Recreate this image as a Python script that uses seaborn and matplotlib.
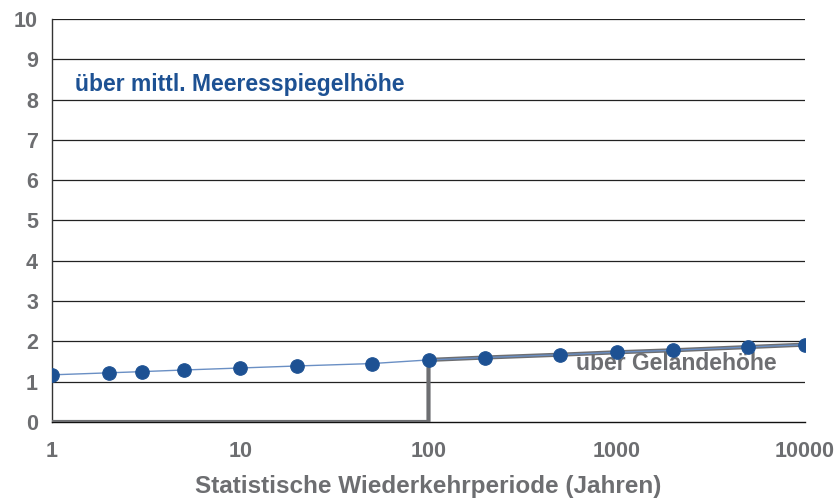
import matplotlib.pyplot as plt
import numpy as np
import seaborn as sns
import pandas as pd

sns.set_theme(style="white")
plt.rcParams["font.family"] = ["Liberation Sans", "DejaVu Sans"]

# Wiederkehrperiode (Jahre) und Höhe (m)
perioden = [1, 2, 3, 5, 10, 20, 50, 100, 200, 500, 1000, 2000, 5000, 10000]
hoehe_meer = [1.17, 1.22, 1.25, 1.29, 1.34, 1.39, 1.45, 1.54, 1.60, 1.67, 1.73, 1.78, 1.86, 1.92]

# über Geländehöhe: 0 bis 100 Jahre, dann wie Meeresspiegel
gelaende_x = [1, 100, 100, 200, 500, 1000, 2000, 5000, 10000]
gelaende_y = [0, 0, 1.54, 1.60, 1.67, 1.73, 1.78, 1.86, 1.92]

df = pd.DataFrame({"T": perioden, "H": hoehe_meer})
dg = pd.DataFrame({"T": gelaende_x, "H": gelaende_y})

grau = "#6d6e71"
blau = "#1d5193"

fig = plt.figure(figsize=(8.4, 5.03), dpi=100)
ax = fig.add_axes([52 / 840, 1 - 422 / 503, (805 - 52) / 840, (422 - 19) / 503])

for y in range(1, 11):
    ax.axhline(y, color="#222222", lw=0.9, zorder=1)

# Beschriftungen
ax.text((576 - 52) / 753, (422 - 363) / 403, "uber Geländehöhe", color=grau,
        fontsize=16.5, fontweight="bold", ha="left", va="center",
        transform=ax.transAxes, zorder=2)
ax.text((75 - 52) / 753, (422 - 85) / 403, "über mittl. Meeresspiegelhöhe", color=blau,
        fontsize=16.5, fontweight="bold", ha="left", va="center",
        transform=ax.transAxes, zorder=6)

ax.plot(dg["T"], dg["H"], color=grau, lw=3, zorder=3, solid_joinstyle="miter")
sns.lineplot(data=df, x="T", y="H", color="#6a8fc4", lw=1, ax=ax, zorder=4)
sns.scatterplot(data=df, x="T", y="H", color=blau, s=95, edgecolor=blau, ax=ax, zorder=5)

ax.set_xscale("log")
ax.set_xlim(1, 10000)
ax.set_ylim(0, 10)
ax.set_xticks([1, 10, 100, 1000, 10000])
ax.set_xticklabels(["1", "10", "100", "1000", "10000"])
ax.xaxis.set_minor_locator(plt.NullLocator())
ax.set_yticks(range(0, 11))

ax.spines["top"].set_visible(False)
ax.spines["right"].set_visible(False)
ax.spines["left"].set_color("#333333")
ax.spines["bottom"].set_color("#111111")
ax.spines["left"].set_linewidth(1.0)
ax.spines["bottom"].set_linewidth(1.0)

ax.tick_params(axis="both", which="major", direction="out", length=6, width=1,
               color="#333333", labelcolor=grau, labelsize=15.5)
ax.tick_params(axis="x", pad=8)
ax.tick_params(axis="y", pad=4)
for lbl in ax.get_xticklabels() + ax.get_yticklabels():
    lbl.set_fontweight("bold")

ax.set_xlabel("Statistische Wiederkehrperiode (Jahren)", color=grau, fontsize=17.5,
              fontweight="bold", labelpad=9)
ax.set_ylabel("")

if ax.get_legend():
    ax.get_legend().remove()

fig.savefig("out.png", dpi=100)
